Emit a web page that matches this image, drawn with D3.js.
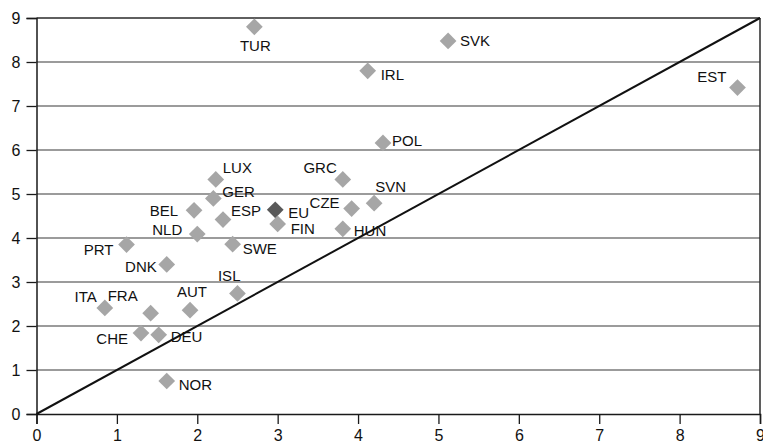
<!DOCTYPE html>
<html>
<head>
<meta charset="utf-8">
<script src="https://cdn.jsdelivr.net/npm/d3@7"></script>
<style>
  html, body { margin: 0; padding: 0; background: #fff; }
  svg { display: block; font-family: "Liberation Sans", Arial, sans-serif; }
</style>
</head>
<body>
<svg id="chart" width="763" height="444"></svg>
<script>
// ---- data ----
const countries = ["TUR","SVK","IRL","EST","POL","GRC","SVN","CZE","HUN","EU","FIN","LUX","GER","BEL","ESP","NLD","SWE","PRT","DNK","ISL","ITA","FRA","AUT","CHE","DEU","NOR"];
const xValues  = [2.71, 5.12, 4.12, 8.72, 4.31, 3.81, 4.20, 3.92, 3.81, 2.97, 3.00, 2.23, 2.20, 1.96, 2.32, 2.00, 2.44, 1.12, 1.62, 2.50, 0.85, 1.42, 1.91, 1.30, 1.52, 1.62];
const yValues  = [8.80, 8.48, 7.80, 7.42, 6.16, 5.33, 4.79, 4.67, 4.21, 4.64, 4.32, 5.33, 4.90, 4.63, 4.42, 4.09, 3.86, 3.85, 3.40, 2.74, 2.41, 2.29, 2.36, 1.84, 1.80, 0.75];
const highlighted = ["EU"];
const xTicks = [0,1,2,3,4,5,6,7,8,9];
const yTicks = [0,1,2,3,4,5,6,7,8,9];
const diagonal = [[0,0],[9,9]];

// ---- label layout (anchor, dx, dy in px) ----
const labelLayout = {
  TUR:["middle",1,19], SVK:["start",12,0], IRL:["start",13,4], EST:["end",-11,-11],
  POL:["start",9,-2], GRC:["end",-6,-12], SVN:["start",1,-16], CZE:["end",-12,-6],
  HUN:["start",11,2], EU:["start",13,3], FIN:["start",13,5], LUX:["start",7,-12],
  GER:["start",9,-7], BEL:["end",-16,0], ESP:["start",8,-9], NLD:["end",-15,-4],
  SWE:["start",10,5], PRT:["end",-13,5], DNK:["end",-10,2], ISL:["end",3,-18],
  ITA:["end",-8,-11], FRA:["end",-13,-17], AUT:["middle",2,-18], CHE:["end",-13,6],
  DEU:["start",12,2], NOR:["start",12,4]
};

const points = countries.map((c,i)=>({name:c, x:xValues[i], y:yValues[i]}));

const svg = d3.select("#chart");
const x = d3.scaleLinear().domain([0,9]).range([36.5,760]);
const y = d3.scaleLinear().domain([0,9]).range([414,18]);

// gridlines
svg.append("g").selectAll("line").data(yTicks.filter(t=>t>0 && t<9)).join("line")
  .attr("x1", x(0)).attr("x2", x(9))
  .attr("y1", d=>y(d)).attr("y2", d=>y(d))
  .attr("stroke", "#7a7a7a").attr("stroke-width", 1.3);

// top and right borders
svg.append("line").attr("x1", x(0)).attr("x2", x(9)).attr("y1", y(9)).attr("y2", y(9))
  .attr("stroke","#2a2a2a").attr("stroke-width",1.5);
svg.append("line").attr("x1", x(9)).attr("x2", x(9)).attr("y1", y(0)).attr("y2", y(9))
  .attr("stroke","#2a2a2a").attr("stroke-width",1.5);

// axes
const xAxis = svg.append("g").attr("transform", `translate(0,${y(0)})`)
  .call(d3.axisBottom(x).tickValues(xTicks).tickSize(10).tickPadding(6).tickFormat(d3.format("d")));
const yAxis = svg.append("g").attr("transform", `translate(${x(0)},0)`)
  .call(d3.axisLeft(y).tickValues(yTicks).tickSize(10).tickPadding(6).tickFormat(d3.format("d")));
[xAxis, yAxis].forEach(a=>{
  a.select(".domain").attr("stroke","#1a1a1a").attr("stroke-width",1.5);
  a.selectAll(".tick line").attr("stroke","#1a1a1a").attr("stroke-width",1.3);
  a.selectAll(".tick text").attr("fill","#111").style("font-size","16px")
    .style("font-family","'Liberation Sans', Arial, sans-serif");
});

// diagonal
svg.append("path").datum(diagonal)
  .attr("d", d3.line().x(d=>x(d[0])).y(d=>y(d[1])))
  .attr("stroke","#111").attr("stroke-width",2).attr("fill","none");

// points
const sym = d3.symbol().type(d3.symbolSquare).size(140);
svg.append("g").selectAll("path").data(points).join("path")
  .attr("d", sym)
  .attr("transform", d=>`translate(${x(d.x)},${y(d.y)}) rotate(45)`)
  .attr("fill", d=>highlighted.includes(d.name) ? "#595959" : "#a6a6a6");

// labels
svg.append("g").selectAll("text").data(points).join("text")
  .attr("x", d=>x(d.x) + labelLayout[d.name][1])
  .attr("y", d=>y(d.y) + labelLayout[d.name][2])
  .attr("dy","0.35em")
  .attr("text-anchor", d=>labelLayout[d.name][0])
  .attr("fill","#111")
  .style("font-size","15px")
  .text(d=>d.name);
</script>
</body>
</html>
